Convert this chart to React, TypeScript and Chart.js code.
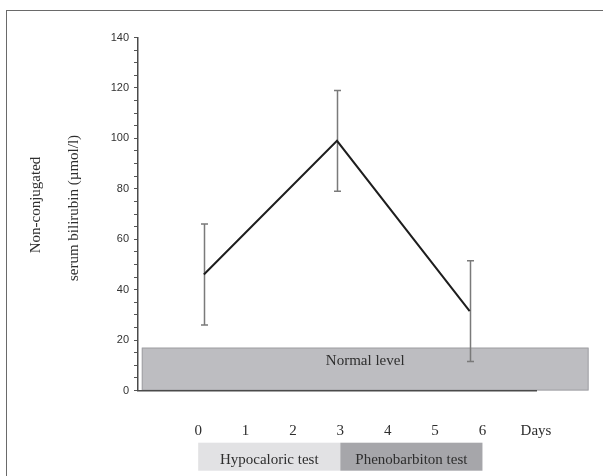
import { useEffect, useRef } from 'react';
import { Chart, registerables } from 'chart.js';

Chart.register(...registerables);

// ---- data ----
const sampleDays = [0.12, 2.93, 5.73];
const bilirubinMean = [46, 99, 31.5];
const bilirubinErr = [20, 20, 20];

const dayTicks = [0, 1, 2, 3, 4, 5, 6];
const dayLabels = ['0', '1', '2', '3', '4', '5', '6'];
const daysLabel = 'Days';

const yMin = 0;
const yMax = 140;
const yMajorStep = 20;
const yMinorStep = 5;

const normalLevel = 17;
const normalLabel = 'Normal level';
const normalBandFrom = -1.19;
const normalBandTo = 8.24;

const phaseNames = ['Hypocaloric test', 'Phenobarbiton test'];
const phaseStart = [0, 3];
const phaseEnd = [3, 6];

const yTitleLines = ['Non-conjugated', 'serum bilirubin (\u00b5mol/l)'];

const X_MIN = -1.27;
const X_MAX = 7.13;

const SERIF = '"Liberation Serif", "Times New Roman", serif';
const SANS = '"Liberation Sans", Arial, sans-serif';

const decor = {
  id: 'decor',
  beforeDraw(chart: any) {
    const { ctx, scales } = chart;
    const x = scales.x;
    const y = scales.y;
    ctx.save();
    // frame
    ctx.strokeStyle = '#6a6a6a';
    ctx.lineWidth = 1;
    ctx.strokeRect(6.5, 10.5, 900, 900);
    // normal band
    const x0 = x.getPixelForValue(normalBandFrom);
    const x1 = x.getPixelForValue(normalBandTo);
    const yTop = y.getPixelForValue(normalLevel);
    const yBot = y.getPixelForValue(0);
    ctx.fillStyle = '#bdbdc1';
    ctx.fillRect(x0, yTop, x1 - x0, yBot - yTop);
    ctx.strokeStyle = '#a2a2a6';
    ctx.lineWidth = 1;
    ctx.strokeRect(x0 + 0.5, yTop + 0.5, x1 - x0 - 1, yBot - yTop - 1);
    ctx.fillStyle = '#2e2e2e';
    ctx.font = '15px ' + SERIF;
    ctx.textAlign = 'center';
    ctx.textBaseline = 'alphabetic';
    ctx.fillText(normalLabel, (x0 + x1) / 2, yTop + 17);
    ctx.restore();
  },
  beforeDatasetsDraw(chart: any) {
    const { ctx, scales } = chart;
    const x = scales.x;
    const y = scales.y;
    ctx.save();
    ctx.strokeStyle = '#7a7a7a';
    ctx.lineWidth = 1.5;
    for (let i = 0; i < sampleDays.length; i++) {
      const px = Math.round(x.getPixelForValue(sampleDays[i])) + 0.5;
      const yHi = y.getPixelForValue(bilirubinMean[i] + bilirubinErr[i]);
      const yLo = y.getPixelForValue(bilirubinMean[i] - bilirubinErr[i]);
      ctx.beginPath();
      ctx.moveTo(px, yHi);
      ctx.lineTo(px, yLo);
      ctx.moveTo(px - 3.5, yHi);
      ctx.lineTo(px + 3.5, yHi);
      ctx.moveTo(px - 3.5, yLo);
      ctx.lineTo(px + 3.5, yLo);
      ctx.stroke();
    }
    ctx.restore();
  },
  afterDraw(chart: any) {
    const { ctx, scales } = chart;
    const x = scales.x;
    ctx.save();
    // phase boxes
    const boxTop = 442.7;
    const boxH = 28;
    const fills = ['#e2e2e4', '#a6a6aa'];
    ctx.font = '15px ' + SERIF;
    ctx.textAlign = 'center';
    ctx.textBaseline = 'alphabetic';
    for (let i = 0; i < phaseNames.length; i++) {
      const a = x.getPixelForValue(phaseStart[i]);
      const b = x.getPixelForValue(phaseEnd[i]);
      ctx.fillStyle = fills[i];
      ctx.fillRect(a, boxTop, b - a, boxH);
      ctx.fillStyle = '#2e2e2e';
      ctx.fillText(phaseNames[i], (a + b) / 2, 463.5);
    }
    // y title
    ctx.fillStyle = '#2e2e2e';
    ctx.textBaseline = 'middle';
    const centers = [
      [36, 205],
      [74, 208],
    ];
    for (let i = 0; i < yTitleLines.length; i++) {
      ctx.save();
      ctx.translate(centers[i][0], centers[i][1]);
      ctx.rotate(-Math.PI / 2);
      ctx.fillText(yTitleLines[i], 0, 0);
      ctx.restore();
    }
    ctx.restore();
  },
};

export default function App() {
  const ref = useRef<HTMLCanvasElement>(null);

  useEffect(() => {
    document.body.style.margin = '0';
    const canvas = ref.current;
    if (!canvas) return;
    const tickValues = [...dayTicks, X_MAX];
    const tickText = [...dayLabels, daysLabel];
    const chart = new Chart(canvas, {
      type: 'line',
      data: {
        datasets: [
          {
            data: sampleDays.map((d, i) => ({ x: d, y: bilirubinMean[i] })),
            borderColor: '#1e1e1e',
            borderWidth: 2,
            pointRadius: 0,
            tension: 0,
            fill: false,
          },
        ],
      },
      options: {
        responsive: false,
        animation: false,
        devicePixelRatio: 1,
        layout: { padding: { left: 0, top: 37.5, right: 67, bottom: 0 } },
        plugins: {
          legend: { display: false },
          tooltip: { enabled: false },
        },
        scales: {
          x: {
            type: 'linear',
            min: X_MIN,
            max: X_MAX,
            afterBuildTicks: (scale: any) => {
              scale.ticks = tickValues.map((v) => ({ value: v }));
            },
            afterFit: (scale: any) => {
              scale.height = 85.5;
            },
            grid: { display: false, drawTicks: false },
            border: { display: true, color: '#4a4a4a', width: 1.5 },
            ticks: {
              autoSkip: false,
              maxRotation: 0,
              padding: 32,
              color: '#2e2e2e',
              font: { family: SERIF, size: 15 },
              callback: (_v: any, i: number) => tickText[i],
            },
          },
          y: {
            type: 'linear',
            min: yMin,
            max: yMax,
            afterFit: (scale: any) => {
              scale.width = 138;
            },
            grid: {
              display: true,
              drawOnChartArea: false,
              drawTicks: true,
              tickLength: 4,
              color: '#555555',
              lineWidth: 1,
            },
            border: { display: true, color: '#4a4a4a', width: 1.5 },
            ticks: {
              stepSize: yMinorStep,
              autoSkip: false,
              padding: 5,
              color: '#333333',
              font: { family: SANS, size: 11 },
              callback: (v: any) => (Number(v) % yMajorStep === 0 ? String(v) : ''),
            },
          },
        },
      },
      plugins: [decor],
    });
    return () => chart.destroy();
  }, []);

  return (
    <div style={{ width: 603, height: 476 }}>
      <canvas ref={ref} width={603} height={476} style={{ display: 'block' }} />
    </div>
  );
}
